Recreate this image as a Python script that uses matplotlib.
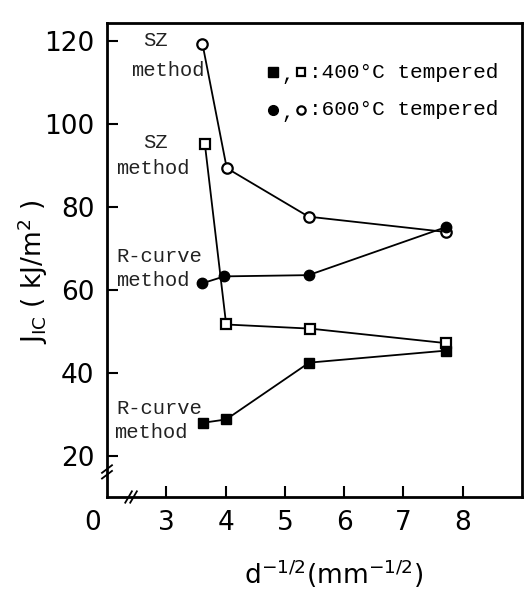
import matplotlib
matplotlib.use("Agg")
import matplotlib.pyplot as plt
from matplotlib.lines import Line2D

# d^-1/2 (mm^-1/2) and J_IC (kJ/m^2)
x_sz_600 = [3.61, 4.02, 5.40, 7.72]
y_sz_600 = [119.3, 89.3, 77.6, 73.9]

x_sz_400 = [3.65, 4.01, 5.43, 7.72]
y_sz_400 = [95.2, 51.6, 50.6, 47.1]

x_r_600 = [3.60, 3.98, 5.40, 7.72]
y_r_600 = [61.5, 63.2, 63.5, 75.1]

x_r_400 = [3.62, 4.01, 5.41, 7.72]
y_r_400 = [27.9, 28.7, 42.4, 45.3]

xticks = [3, 4, 5, 6, 7, 8]
yticks = [20, 40, 60, 80, 100, 120]

W, H = 524, 590
fig = plt.figure(figsize=(W / 100, H / 100), dpi=100)
ax = fig.add_axes([107 / W, 1 - 497 / H, 415 / W, 474 / H])

def px(x, y):
    return x / W, 1 - y / H

mono = ["Liberation Mono", "DejaVu Sans Mono"]

ax.plot(x_sz_600, y_sz_600, "-o", color="black", mfc="white", mec="black",
        ms=7.5, mew=1.6, lw=1.3, zorder=3)
ax.plot(x_sz_400, y_sz_400, "-s", color="black", mfc="white", mec="black",
        ms=6.5, mew=1.6, lw=1.3, zorder=3)
ax.plot(x_r_600, y_r_600, "-o", color="black", ms=7.5, lw=1.3, zorder=3)
ax.plot(x_r_400, y_r_400, "-s", color="black", ms=7, lw=1.3, zorder=3)

ax.set_xlim(2.0, 9.0)
ax.set_ylim(10, 124.3)
ax.set_xticks(xticks)
ax.set_yticks(yticks)
ax.tick_params(direction="in", length=8, width=1.5, labelsize=19, pad=9,
               top=False, right=False)
for s in ax.spines.values():
    s.set_linewidth(2)

# zero label at the broken corner
fig.text(*px(93, 523), "0", fontsize=19, ha="center", va="center")

# axis break marks
for dx in (-0.006, 0.006):
    ax.add_line(Line2D([0.058 + dx - 0.008, 0.058 + dx + 0.008], [-0.012, 0.012],
                       transform=ax.transAxes, color="black", lw=1.3, clip_on=False))
for dy in (-0.006, 0.006):
    ax.add_line(Line2D([-0.012, 0.012], [0.053 + dy - 0.008, 0.053 + dy + 0.008],
                       transform=ax.transAxes, color="black", lw=1.3, clip_on=False))

# method annotations
notes = [
    (143, 40, "SZ"), (131, 70, "method"),
    (143, 142, "SZ"), (116, 168, "method"),
    (116, 257, "R-curve"), (116, 281, "method"),
    (116, 408, "R-curve"), (114, 433, "method"),
]
for nx, ny, t in notes:
    fig.text(*px(nx, ny), t, family=mono, fontsize=14.8, ha="left", va="center",
             color="#222222")

# legend
leg = [(72, "s", ":400°C tempered"), (110, "o", ":600°C tempered")]
for ly, m, t in leg:
    fig.add_artist(Line2D([273 / W], [1 - ly / H], marker=m, color="black", ms=7,
                          transform=fig.transFigure, ls="none"))
    fig.text(*px(281, ly + 2), ",", family=mono, fontsize=14.8, ha="left", va="center")
    fig.add_artist(Line2D([301 / W], [1 - ly / H], marker=m, color="black", ms=6,
                          mfc="white", mew=1.6, transform=fig.transFigure, ls="none"))
    fig.text(*px(309, ly), t, family=mono, fontsize=15.2, ha="left", va="center")

fig.text(*px(33, 272), r"J$_{\mathrm{IC}}$ ( kJ/m$^2$ )", fontsize=19,
         rotation=90, ha="center", va="center")
fig.text(*px(334, 574), r"d$^{-1/2}$(mm$^{-1/2}$)", fontsize=19,
         ha="center", va="center")

fig.savefig("out.png", dpi=100)
